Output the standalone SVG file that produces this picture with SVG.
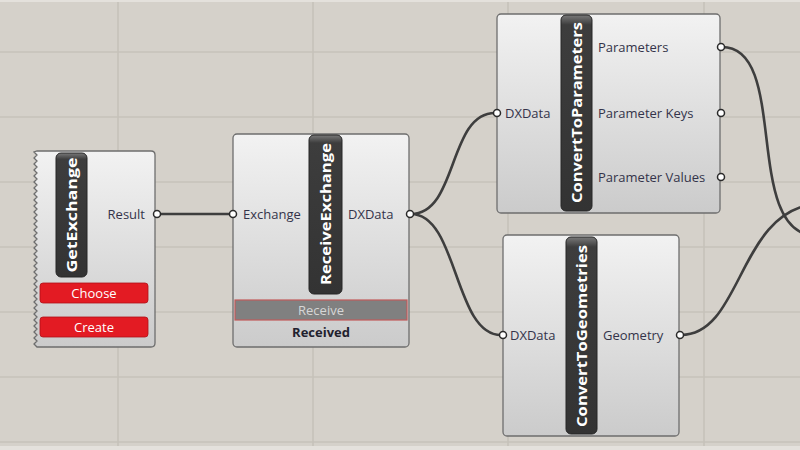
<svg xmlns="http://www.w3.org/2000/svg" width="800" height="450" viewBox="0 0 800 450">
<defs>
<linearGradient id="body" x1="0" y1="0" x2="0" y2="1">
<stop offset="0" stop-color="#f2f2f2"/>
<stop offset="1" stop-color="#cbcbcb"/>
</linearGradient>
<linearGradient id="bar" x1="0" y1="0" x2="0" y2="1">
<stop offset="0" stop-color="#7a7a7a"/>
<stop offset="0.05" stop-color="#3d3d3d"/>
<stop offset="1" stop-color="#333333"/>
</linearGradient>
<style>
.grid{stroke:#c6c2ba;stroke-width:1.6}
.node{fill:url(#body);stroke:#6e6e6e;stroke-width:1.3}
.bar{fill:url(#bar);stroke:#262626;stroke-width:1}
.title{font-family:"Open Sans","DejaVu Sans",sans-serif;font-weight:bold;font-size:14px;fill:#ffffff;text-anchor:middle;dominant-baseline:central}
.lbl{font-family:"Open Sans","DejaVu Sans",sans-serif;font-size:13px;fill:#34344a;dominant-baseline:central}
.btn{fill:#e31b23;stroke:#b01018;stroke-width:0.8}
.btxt{font-family:"Open Sans","DejaVu Sans",sans-serif;font-size:13px;fill:#ffffff;text-anchor:middle;dominant-baseline:central}
.port{fill:#ffffff;stroke:#2a2a2a;stroke-width:1.5}
.wire{fill:none;stroke:#3e3e3e;stroke-width:2.6}
</style>
</defs>
<rect x="0" y="0" width="800" height="450" fill="#d5d1ca"/>
<rect x="0" y="0" width="800" height="2" fill="#e4e1dc"/>
<rect x="0" y="446" width="800" height="4" fill="#e4e1dc"/>
<g id="grid">
<line class="grid" x1="0" y1="52" x2="800" y2="52"/>
<line class="grid" x1="0" y1="117" x2="800" y2="117"/>
<line class="grid" x1="0" y1="182" x2="800" y2="182"/>
<line class="grid" x1="0" y1="247" x2="800" y2="247"/>
<line class="grid" x1="0" y1="312" x2="800" y2="312"/>
<line class="grid" x1="0" y1="377" x2="800" y2="377"/>
<line class="grid" x1="0" y1="442" x2="800" y2="442"/>
<line class="grid" x1="118" y1="2" x2="118" y2="446"/>
<line class="grid" x1="313" y1="2" x2="313" y2="446"/>
<line class="grid" x1="508" y1="2" x2="508" y2="446"/>
<line class="grid" x1="704" y1="2" x2="704" y2="446"/>
</g>
<g id="connectors">
<path class="wire" d="M157 214 L231 214"/>
<path class="wire" d="M411 214 C458 214 448 113 495 113"/>
<path class="wire" d="M411 214 C458 214 454 335 501 335"/>
<path class="wire" d="M722 47 C790 47 742 232 815 236"/>
<path class="wire" d="M681 335 C742 335 738 212 815 204"/>
</g>
<g id="GetExchange">
<path class="node" d="M37 151 L151 151 Q155 151 155 155 L155 343 Q155 347 151 347 L37 347 L34 344 L37 341 L34 338 L37 335 L34 332 L37 329 L34 326 L37 323 L34 320 L37 317 L34 314 L37 311 L34 308 L37 305 L34 302 L37 299 L34 296 L37 293 L34 290 L37 287 L34 284 L37 281 L34 278 L37 275 L34 272 L37 269 L34 266 L37 263 L34 260 L37 257 L34 254 L37 251 L34 248 L37 245 L34 242 L37 239 L34 236 L37 233 L34 230 L37 227 L34 224 L37 221 L34 218 L37 215 L34 212 L37 209 L34 206 L37 203 L34 200 L37 197 L34 194 L37 191 L34 188 L37 185 L34 182 L37 179 L34 176 L37 173 L34 170 L37 167 L34 164 L37 161 L34 158 L37 155 L34 152 Z"/>
<rect class="bar" x="56" y="153" width="31" height="124" rx="5"/>
<text class="title" transform="translate(71.5 215) rotate(-90)" textLength="115" lengthAdjust="spacingAndGlyphs">GetExchange</text>
<text class="lbl" x="145" y="214" text-anchor="end">Result</text>
<rect class="btn" x="40" y="283" width="108" height="20" rx="3"/>
<text class="btxt" x="94" y="293">Choose</text>
<rect class="btn" x="40" y="317" width="108" height="20" rx="3"/>
<text class="btxt" x="94" y="327">Create</text>
<circle class="port" cx="157" cy="214" r="3.5"/>
</g>
<g id="ReceiveExchange">
<rect class="node" x="233" y="134" width="176" height="213" rx="4"/>
<rect class="bar" x="309" y="135" width="33" height="159" rx="5"/>
<text class="title" transform="translate(325.5 214) rotate(-90)" textLength="142" lengthAdjust="spacingAndGlyphs">ReceiveExchange</text>
<text class="lbl" x="243" y="214">Exchange</text>
<text class="lbl" x="348" y="214">DXData</text>
<rect x="235" y="300" width="172" height="20" fill="#808080" stroke="#c25a5a" stroke-width="1.2"/>
<text x="321" y="310" font-family="'Open Sans','DejaVu Sans',sans-serif" font-size="13" fill="#d6d6d6" text-anchor="middle" dominant-baseline="central">Receive</text>
<text x="321" y="332" font-family="'Open Sans','DejaVu Sans',sans-serif" font-size="13" font-weight="bold" fill="#22222e" text-anchor="middle" dominant-baseline="central">Received</text>
<circle class="port" cx="233" cy="214" r="3.5"/>
<circle class="port" cx="410" cy="214" r="3.5"/>
</g>
<g id="ConvertToParameters">
<rect class="node" x="497" y="14" width="223" height="199" rx="4"/>
<rect class="bar" x="561" y="15" width="31" height="196" rx="5"/>
<text class="title" transform="translate(576.5 112.5) rotate(-90)" textLength="181" lengthAdjust="spacingAndGlyphs">ConvertToParameters</text>
<text class="lbl" x="505" y="113">DXData</text>
<text class="lbl" x="598" y="47">Parameters</text>
<text class="lbl" x="598" y="113">Parameter Keys</text>
<text class="lbl" x="598" y="177">Parameter Values</text>
<circle class="port" cx="497" cy="113" r="3.5"/>
<circle class="port" cx="721" cy="47" r="3.5"/>
<circle class="port" cx="721" cy="113" r="3.5"/>
<circle class="port" cx="721" cy="177" r="3.5"/>
</g>
<g id="ConvertToGeometries">
<rect class="node" x="503" y="235" width="176" height="201" rx="4"/>
<rect class="bar" x="566" y="237" width="31" height="197" rx="5"/>
<text class="title" transform="translate(581.5 336) rotate(-90)" textLength="182" lengthAdjust="spacingAndGlyphs">ConvertToGeometries</text>
<text class="lbl" x="510" y="335">DXData</text>
<text class="lbl" x="603" y="335">Geometry</text>
<circle class="port" cx="503" cy="335" r="3.5"/>
<circle class="port" cx="680" cy="335" r="3.5"/>
</g>
</svg>
